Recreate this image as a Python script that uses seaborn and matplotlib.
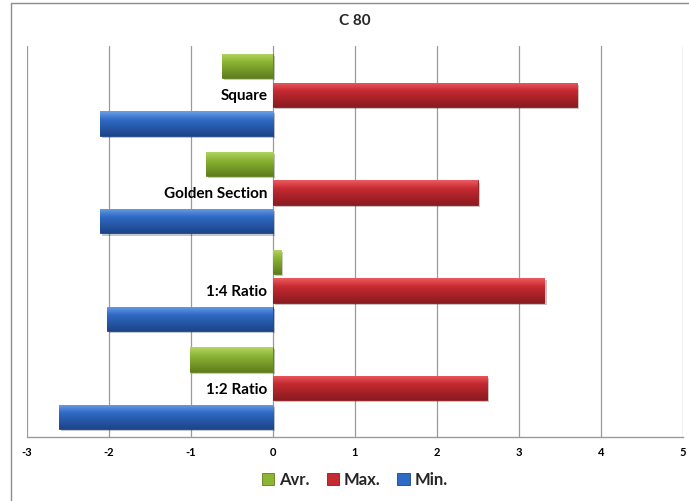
import numpy as np
import pandas as pd
import seaborn as sns
import matplotlib
matplotlib.use("Agg")
import matplotlib.pyplot as plt
from matplotlib.patches import Patch, Rectangle
from matplotlib import patheffects as pe
from matplotlib.colors import to_rgb

# ---- data -------------------------------------------------------------
layouts = ["Square", "Golden Section", "1:4 Ratio", "1:2 Ratio"]
series = ["Avr.", "Max.", "Min."]
avr_vals = [-0.62, -0.82, 0.10, -1.01]
max_vals = [3.71, 2.50, 3.31, 2.61]
min_vals = [-2.11, -2.11, -2.02, -2.61]
x_ticks = [-3, -2, -1, 0, 1, 2, 3, 4, 5]
title = "C 80"

df = pd.DataFrame({
    "Layout": layouts * 3,
    "Series": [s for s in series for _ in layouts],
    "Value": avr_vals + max_vals + min_vals,
})

# ---- style ------------------------------------------------------------
sns.set_theme(style="white")
plt.rcParams["font.family"] = ["Lato", "DejaVu Sans"]
plt.rcParams["font.weight"] = "bold"
plt.rcParams["axes.unicode_minus"] = False

base = {"Avr.": "#8cb533", "Max.": "#c42a30", "Min.": "#2f6ac4"}
light = {"Avr.": "#b5d765", "Max.": "#ec5a60", "Min.": "#6a9ee8"}
dark = {"Avr.": "#5f7d1e", "Max.": "#8a1b20", "Min.": "#1d4488"}

W, H = 689, 501
fig = plt.figure(figsize=(W / 100, H / 100), dpi=100)
ax = fig.add_axes([27 / W, 1 - 437 / H, (683 - 27) / W, (437 - 46) / H])

sns.barplot(data=df, y="Layout", x="Value", hue="Series",
            order=layouts, hue_order=series, palette=base,
            orient="h", width=0.88, gap=0.15, saturation=1,
            legend=False, ax=ax)

# glossy vertical shading on every bar
grad_t = np.linspace(0, 1, 64)
def shade(c_top, c_mid, c_bot):
    top, mid, bot = map(np.array, (to_rgb(c_top), to_rgb(c_mid), to_rgb(c_bot)))
    rows = []
    for t in grad_t:
        if t < 0.35:
            rows.append(top + (mid - top) * (t / 0.35))
        else:
            rows.append(mid + (bot - mid) * ((t - 0.35) / 0.65))
    return np.array(rows)[:, None, :]

bars = [p for p in ax.patches if p.get_height() > 0]
for bar in bars:
    fc = bar.get_facecolor()
    key = min(base, key=lambda k: np.sum((np.array(to_rgb(base[k])) - np.array(fc[:3])) ** 2))
    x0, y0, w, h = bar.get_x(), bar.get_y(), bar.get_width(), bar.get_height()
    bar.set_edgecolor(dark[key])
    bar.set_linewidth(0.6)
    bar.set_path_effects([pe.SimplePatchShadow(offset=(1.5, -1.5), alpha=0.25), pe.Normal()])
    img = ax.imshow(shade(light[key], base[key], dark[key]),
                    extent=[x0, x0 + w, y0 + h, y0], origin="upper",
                    aspect="auto", interpolation="bilinear", zorder=bar.get_zorder() + 0.1)
    img.set_clip_path(bar)

# ---- axes -------------------------------------------------------------
ax.set_xlim(-3, 5)
ax.set_ylim(3.5, -0.5)
ax.set_xticks(x_ticks)
ax.set_xticklabels([str(v) for v in x_ticks], fontsize=8, fontweight="bold")
ax.set_yticks(range(len(layouts)))
ax.set_yticklabels(layouts, fontsize=8.5, fontweight="bold")
ax.xaxis.grid(True, color="#9a9a9a", linewidth=0.9)
ax.yaxis.grid(False)
ax.set_axisbelow(True)
ax.set_xlabel("")
ax.set_ylabel("")
ax.tick_params(axis="x", length=0, pad=7, colors="black")
ax.tick_params(axis="y", length=0, pad=4, colors="black")
ax.spines["left"].set_position(("data", 0))
for s in ("left", "top", "right"):
    ax.spines[s].set_visible(False)
ax.spines["bottom"].set_color("#9a9a9a")
ax.spines["bottom"].set_linewidth(1.0)

ax.set_title(title, fontsize=11, fontweight="bold", pad=15)

handles = [Patch(facecolor=base[s], edgecolor=dark[s], linewidth=0.6, label=s) for s in series]
ax.legend(handles=handles, loc="center", bbox_to_anchor=(0.5, -0.11), ncol=3,
          frameon=False, handlelength=0.75, handleheight=0.75, handletextpad=0.3,
          columnspacing=1.0, prop={"size": 12, "weight": "bold"})

# chart-area outline
fig.patches.append(Rectangle((11 / W, -0.1), 1.2, 1.1 - 3 / H, transform=fig.transFigure,
                             fill=False, edgecolor="#8c8c8c", linewidth=1.0))

fig.savefig("out.png", dpi=100)
